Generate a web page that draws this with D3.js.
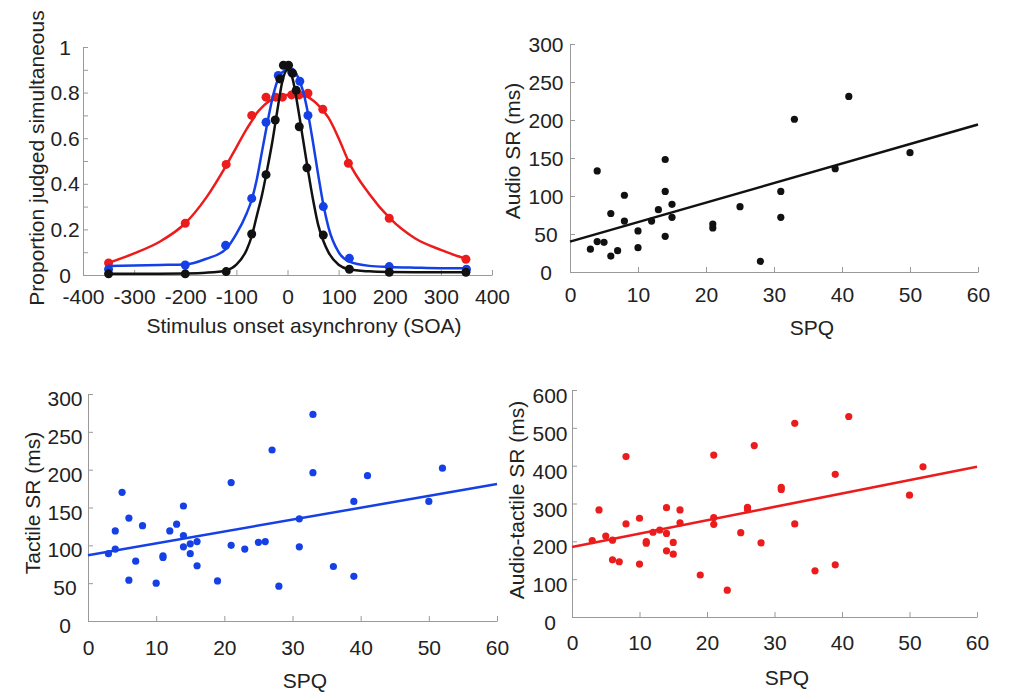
<!DOCTYPE html>
<html>
<head>
<meta charset="utf-8">
<script src="https://cdn.jsdelivr.net/npm/d3@7"></script>
<style>
  body { margin: 0; background: #fff; }
  svg { display: block; }
</style>
</head>
<body>
<svg id="chart" width="1017" height="694"></svg>
<script>
// ---- panel A: proportion judged simultaneous vs SOA ----
var soaRed = [-350, -200, -120, -70, -42, -23, -10, 8, 23, 40, 69, 119, 199, 349];
var propRed = [0.053, 0.227, 0.485, 0.70, 0.78, 0.78, 0.78, 0.79, 0.79, 0.797, 0.727, 0.49, 0.249, 0.069];
var soaBlue = [-350, -200, -121, -70, -42, -18, 8, 24, 40, 70, 121, 199, 350];
var propBlue = [0.025, 0.044, 0.13, 0.336, 0.67, 0.875, 0.89, 0.85, 0.70, 0.30, 0.073, 0.037, 0.025];
var soaBlack = [-350, -200, -120, -70, -42, -24, -15, -8, 2, 10, 17, 23, 38, 70, 121, 199, 349];
var propBlack = [0.005, 0.005, 0.015, 0.18, 0.44, 0.68, 0.86, 0.92, 0.92, 0.885, 0.81, 0.65, 0.47, 0.175, 0.025, 0.012, 0.012];

// fitted curves, sampled off the figure
var fitSoa = [-350, -300, -250, -200, -160, -120, -100, -80, -70, -60, -50, -40, -30, -20, -10, 0,
              10, 20, 30, 40, 50, 60, 70, 80, 100, 120, 160, 200, 250, 300, 350];
var fitRed = [0.053, 0.095, 0.146, 0.227, 0.336, 0.48, 0.56, 0.64, 0.675, 0.71, 0.735, 0.755, 0.77, 0.782, 0.788, 0.79,
              0.791, 0.79, 0.786, 0.78, 0.765, 0.745, 0.72, 0.69, 0.60, 0.495, 0.355, 0.249, 0.16, 0.11, 0.07];
var fitBlue = [0.04, 0.042, 0.044, 0.046, 0.07, 0.115, 0.18, 0.27, 0.33, 0.42, 0.54, 0.66, 0.77, 0.85, 0.89, 0.90,
               0.90, 0.87, 0.81, 0.71, 0.58, 0.44, 0.31, 0.21, 0.10, 0.06, 0.04, 0.035, 0.032, 0.03, 0.03];
var fitBlack = [0.005, 0.005, 0.006, 0.007, 0.01, 0.02, 0.045, 0.11, 0.17, 0.26, 0.35, 0.46, 0.58, 0.72, 0.85, 0.90,
                0.86, 0.74, 0.60, 0.46, 0.33, 0.22, 0.15, 0.10, 0.045, 0.025, 0.016, 0.013, 0.012, 0.012, 0.012];

// ---- panel B: audio SR vs SPQ ----
var spqAudio = [3, 4, 4, 5, 6, 6, 7, 8, 8, 10, 10, 12, 13, 14, 14, 14, 15, 15, 21, 21, 25, 28, 31, 31, 33, 39, 41, 50];
var srAudio = [30, 133, 40, 39, 21, 77, 28, 101, 67, 54, 32, 67, 82, 148, 106, 47, 89, 72, 63, 58, 86, 14, 106, 72, 201, 136, 231, 157];
var fitAudio = [40, 194];

// ---- panel C: tactile SR vs SPQ ----
var spqTactile = [3, 4, 4, 5, 6, 6, 7, 8, 10, 11, 11, 12, 13, 14, 14, 14, 15, 15, 16, 16, 19, 21, 21, 23, 25, 26, 27, 28,
                  31, 31, 33, 33, 36, 39, 39, 41, 50, 52];
var srTactile = [89, 95, 119, 170, 136, 54, 79, 126, 50, 86, 84, 119, 128, 152, 113, 98, 102, 89, 105, 73, 53, 183, 100, 95, 104, 105, 226, 46,
                 135, 98, 273, 196, 72, 59, 158, 192, 158, 202];
var fitTactile = [87, 181];

// ---- panel D: audio-tactile SR vs SPQ ----
var spqAT = [3, 4, 5, 6, 6, 7, 8, 8, 10, 10, 11, 11, 12, 13, 14, 14, 14, 15, 15, 16, 16, 19, 21, 21, 21, 23, 25, 26, 26, 27, 28,
             31, 31, 33, 33, 36, 39, 39, 41, 50, 52];
var srAT = [202, 283, 214, 203, 151, 146, 424, 246, 261, 140, 199, 195, 224, 230, 289, 221, 175, 197, 166, 283, 249, 111, 428, 263, 245, 71, 223, 290, 284, 453, 196,
            343, 337, 512, 246, 122, 377, 138, 530, 322, 397];
var fitAT = [185, 397];

var fitSpq = [0, 60];

var RED = '#ec1c1c';
var BLUE = '#1440e6';
var BLACK = '#111';
var FONT = '"Liberation Sans", Arial, Helvetica, sans-serif';

var svg = d3.select('#chart');

function drawAxes(p) {
  var gx = svg.append('g')
    .attr('transform', `translate(0,${p.y.range()[0]})`)
    .call(d3.axisBottom(p.x)
      .tickValues(p.xTicks)
      .tickFormat(d => String(d))
      .tickSize(-5)
      .tickSizeOuter(0)
      .tickPadding(p.xPad));
  var gy = svg.append('g')
    .attr('transform', `translate(${p.x.range()[0]},0)`)
    .call(d3.axisLeft(p.y)
      .tickValues(p.yTicks)
      .tickFormat(p.yFmt || (d => String(d)))
      .tickSize(-5)
      .tickSizeOuter(0));
  [gx, gy].forEach(g => {
    g.attr('font-family', FONT).attr('font-size', 21);
    g.select('.domain').attr('stroke', '#9a9a9a');
    g.selectAll('.tick line').attr('stroke', '#9a9a9a');
    g.selectAll('.tick text').attr('fill', '#222');
  });
  gy.selectAll('.tick text')
    .attr('text-anchor', 'middle')
    .attr('x', -p.yOff)
    .attr('dy', p.yDy);

  svg.append('text')
    .attr('x', p.xLabel[0])
    .attr('y', p.xLabel[1])
    .attr('text-anchor', 'middle')
    .attr('font-family', FONT)
    .attr('font-size', 21)
    .attr('fill', '#222')
    .text(p.xTitle);
  svg.append('text')
    .attr('transform', `translate(${p.yLabel[0]},${p.yLabel[1]}) rotate(-90)`)
    .attr('text-anchor', 'middle')
    .attr('dy', '0.35em')
    .attr('font-family', FONT)
    .attr('font-size', 21)
    .attr('fill', '#222')
    .text(p.yTitle);
}

// panel A
var xA = d3.scaleLinear().domain([-400, 400]).range([83, 492]);
var yA = d3.scaleLinear().domain([0, 1]).range([275, 47]);
drawAxes({
  x: xA, y: yA,
  xTicks: d3.range(-400, 401, 100),
  yTicks: d3.range(0, 11).map(d => d / 10),
  yFmt: d => (Math.round(d * 10) % 2 ? '' : (d === 0 || d === 1 ? String(d) : d3.format('.1f')(d))),
  xPad: 14, yOff: 18, yDy: '0.34em',
  xTitle: 'Stimulus onset asynchrony (SOA)', xLabel: [304, 333],
  yTitle: 'Proportion judged simultaneous', yLabel: [37, 158]
});

var seriesA = [
  {color: RED, fit: fitRed, xs: soaRed, ys: propRed},
  {color: BLUE, fit: fitBlue, xs: soaBlue, ys: propBlue},
  {color: BLACK, fit: fitBlack, xs: soaBlack, ys: propBlack}
];
var lineA = d3.line()
  .x(d => xA(d[0]))
  .y(d => yA(d[1]))
  .curve(d3.curveMonotoneX);
seriesA.forEach(s => {
  svg.append('path')
    .datum(d3.zip(fitSoa, s.fit))
    .attr('d', lineA)
    .attr('fill', 'none')
    .attr('stroke', s.color)
    .attr('stroke-width', 2.5);
  svg.append('g')
    .selectAll('circle')
    .data(d3.zip(s.xs, s.ys))
    .enter()
    .append('circle')
    .attr('cx', d => xA(d[0]))
    .attr('cy', d => yA(d[1]))
    .attr('r', 4.5)
    .attr('fill', s.color);
});

// scatter panels
function scatter(p) {
  var x = d3.scaleLinear().domain([0, 60]).range(p.xr);
  var y = d3.scaleLinear().domain([0, p.yMax]).range(p.yr);
  drawAxes({
    x: x, y: y,
    xTicks: d3.range(0, 61, 10),
    yTicks: d3.range(0, p.yMax + 1, p.yStep),
    xPad: p.xPad, yOff: p.yOff, yDy: p.yDy,
    xTitle: 'SPQ', xLabel: p.xLabel,
    yTitle: p.yTitle, yLabel: p.yLabel
  });
  svg.append('line')
    .attr('x1', x(fitSpq[0]))
    .attr('y1', y(p.fit[0]))
    .attr('x2', x(fitSpq[1]))
    .attr('y2', y(p.fit[1]))
    .attr('stroke', p.color)
    .attr('stroke-width', 2.5);
  svg.append('g')
    .selectAll('circle')
    .data(d3.zip(p.xs, p.ys))
    .enter()
    .append('circle')
    .attr('cx', d => x(d[0]))
    .attr('cy', d => y(d[1]))
    .attr('r', 3.6)
    .attr('fill', p.color);
}

scatter({
  xs: spqAudio, ys: srAudio, fit: fitAudio, color: BLACK,
  xr: [570, 978], yr: [272, 44], yMax: 300, yStep: 50,
  xPad: 15, yOff: 24, yDy: '0.34em',
  xLabel: [812, 335], yTitle: 'Audio SR (ms)', yLabel: [513, 151]
});
scatter({
  xs: spqTactile, ys: srTactile, fit: fitTactile, color: BLUE,
  xr: [88, 497], yr: [621, 394], yMax: 300, yStep: 50,
  xPad: 19, yOff: 23, yDy: '0.55em',
  xLabel: [305, 688], yTitle: 'Tactile SR (ms)', yLabel: [33, 503]
});
scatter({
  xs: spqAT, ys: srAT, fit: fitAT, color: RED,
  xr: [572, 977], yr: [617, 390], yMax: 600, yStep: 100,
  xPad: 18, yOff: 22, yDy: '0.6em',
  xLabel: [787, 685], yTitle: 'Audio-tactile SR (ms)', yLabel: [517, 500]
});
</script>
</body>
</html>
